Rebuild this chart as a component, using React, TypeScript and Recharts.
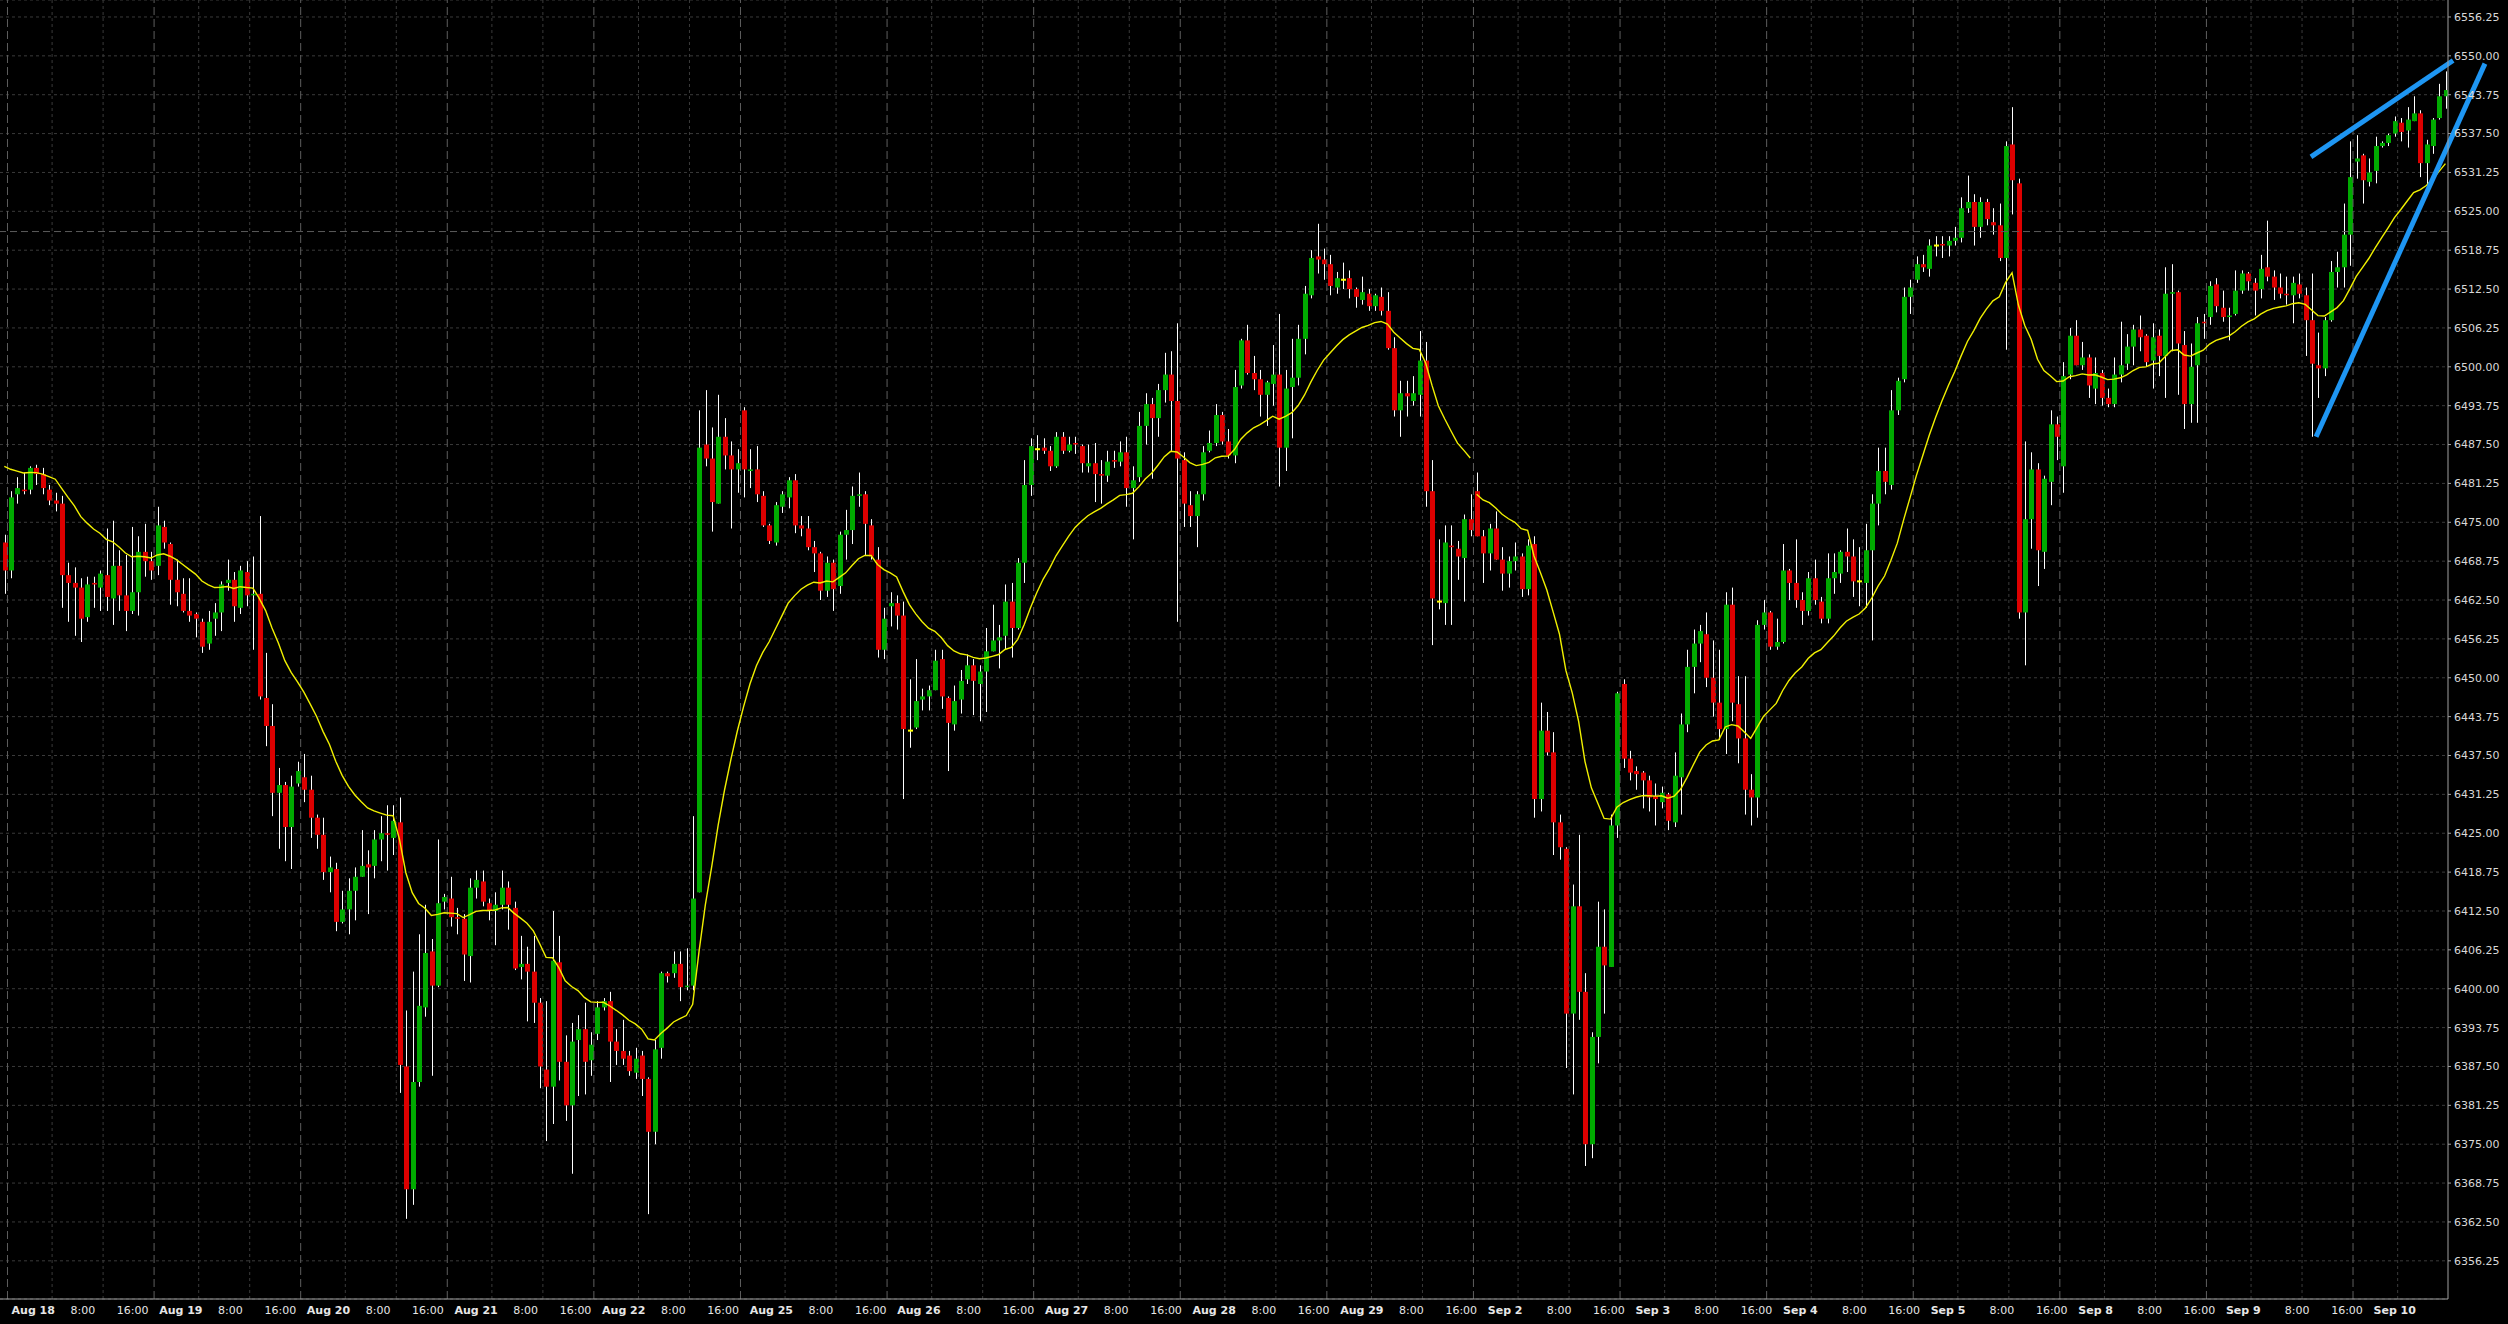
import React from "react";
import {
  ComposedChart,
  Bar,
  Line,
  XAxis,
  YAxis,
  CartesianGrid,
  ReferenceLine,
} from "recharts";

// [open, high, low, close] per hourly bar
type Ohlc = [number, number, number, number];

// last bar of the previous session, partly cut by the left edge
const lead: Ohlc[] = [[6471.75, 6473, 6463.5, 6467.25]];

const aug18: Ohlc[] = [
  [6467.25, 6480, 6466, 6479], [6479.5, 6482.25, 6478, 6480.5], [6480.25, 6483, 6479.5, 6480],
  [6480.25, 6484, 6479.5, 6483.75], [6483.75, 6484.25, 6481, 6482.75], [6482.75, 6483.75, 6479.5, 6480.5],
  [6480.25, 6481, 6477.75, 6478.5], [6478.5, 6479.75, 6476.75, 6478], [6478, 6479.25, 6461.25, 6466.5],
  [6466.5, 6468.5, 6459, 6465.25], [6465.25, 6467.75, 6456.75, 6464.5], [6464.5, 6466, 6455.75, 6459.5],
  [6459.75, 6466.25, 6459, 6465], [6465.25, 6466.25, 6461.25, 6465], [6464.5, 6467.25, 6460.75, 6466.75],
  [6466.5, 6474, 6460.75, 6463], [6462.75, 6475.25, 6458.5, 6468], [6468, 6470.5, 6460.75, 6463.25],
  [6463.25, 6469.75, 6457.5, 6460.75], [6460.75, 6474.25, 6460.25, 6463.75], [6463.75, 6472.75, 6460, 6470.25],
  [6470.25, 6474.75, 6466.25, 6468.75], [6468.75, 6470.25, 6465.75, 6467.25],
];

const aug19: Ohlc[] = [
  [6468, 6477.5, 6466.5, 6474.5], [6474.25, 6475.25, 6470.75, 6471.75], [6471.5, 6471.75, 6461.75, 6465.75],
  [6465.75, 6469, 6461.5, 6463.75], [6463.5, 6466, 6460.5, 6460.75], [6460.75, 6466, 6459, 6460],
  [6460.25, 6460.5, 6456.5, 6459.5], [6459, 6459.5, 6454, 6455], [6455.5, 6460.75, 6454.5, 6459],
  [6459.5, 6462, 6456.75, 6460.5], [6460.5, 6465.5, 6457.5, 6465], [6465.25, 6469, 6464, 6465.75],
  [6465.75, 6467, 6459, 6461.5], [6461.25, 6468, 6460.25, 6467.25], [6467, 6468.75, 6461.5, 6463.25],
  [6463.25, 6469.5, 6454.5, 6463.5], [6463.5, 6476, 6446.5, 6447], [6446.75, 6454, 6439, 6442.25],
  [6442.25, 6445.75, 6427.75, 6431.5], [6431.5, 6435.5, 6422.5, 6432.75], [6432.75, 6433.25, 6420.5, 6426],
  [6426, 6434.25, 6419.25, 6432.5], [6433, 6436.5, 6432.5, 6435],
];

const aug20: Ohlc[] = [
  [6434, 6437.75, 6430, 6432], [6432, 6434.25, 6424.25, 6427.5], [6427.5, 6428, 6422.5, 6424.75],
  [6424.75, 6427.5, 6417.5, 6418.75], [6418.75, 6421.25, 6415.5, 6419.5], [6419.25, 6420.25, 6409.25, 6410.75],
  [6410.75, 6415.75, 6410.5, 6412.75], [6412.75, 6417.75, 6408.75, 6415.75], [6415.75, 6419.5, 6411, 6418],
  [6418, 6425.5, 6418, 6419.75], [6420, 6422.25, 6412, 6419.5], [6419.75, 6425.5, 6417.75, 6424],
  [6424, 6427.75, 6420.5, 6425], [6425, 6429.5, 6419, 6424.75], [6424.25, 6429.5, 6421.5, 6427],
  [6426.75, 6430.75, 6383.25, 6387.75], [6387.5, 6396.5, 6363, 6367.75], [6367.75, 6402.75, 6365.25, 6385],
  [6385, 6408.75, 6384.25, 6397.25], [6397, 6413.5, 6395.5, 6405.75], [6406, 6408, 6386, 6400.5],
  [6400.5, 6424, 6400.25, 6413.75], [6414, 6415.25, 6412.75, 6414.75],
];

const aug21: Ohlc[] = [
  [6414.5, 6418, 6410, 6411.5], [6411.5, 6413, 6408.75, 6411.25], [6411.25, 6412, 6401.25, 6405.5],
  [6405.25, 6417.75, 6401, 6416.25], [6416.25, 6419, 6414.5, 6417.5], [6417.25, 6419, 6413.25, 6414],
  [6413.75, 6414.5, 6411, 6412.5], [6412.5, 6415.5, 6407, 6413.5], [6413.5, 6419, 6412.75, 6416.25],
  [6416.25, 6417.25, 6409.5, 6413.5], [6413, 6414, 6403, 6403.25], [6403.5, 6408.5, 6401.5, 6404],
  [6404, 6406.75, 6394.75, 6402.75], [6402.75, 6408.5, 6394.5, 6397.75], [6397.75, 6398.5, 6384, 6387.5],
  [6387, 6398, 6375.5, 6384.25], [6384.25, 6412.5, 6378.25, 6404.5], [6404.25, 6408.5, 6385.25, 6388.25],
  [6388.25, 6392.5, 6378.75, 6381.25], [6381.25, 6394.5, 6370.25, 6391.5], [6391.75, 6395.75, 6382.75, 6393.5],
  [6393.5, 6397.75, 6383, 6388.25], [6388.5, 6393, 6386, 6391],
];

const aug22: Ohlc[] = [
  [6392.75, 6398, 6391.75, 6397], [6397, 6398.5, 6396.5, 6398], [6398, 6399.5, 6385, 6391.5],
  [6391.5, 6393.5, 6387.75, 6390], [6390, 6395, 6387.75, 6388.75], [6389.25, 6390, 6386, 6386.75],
  [6386.5, 6390.5, 6385.5, 6388.75], [6389.25, 6390, 6382.75, 6385.5], [6385.5, 6385.75, 6363.75, 6377],
  [6377, 6391.75, 6375, 6390.25], [6390.5, 6402.75, 6388.75, 6402.5], [6402.5, 6402.75, 6401, 6402],
  [6402.5, 6406, 6401.75, 6404], [6404, 6406, 6398, 6400.25], [6400.25, 6406.5, 6399.75, 6400.5],
  [6400.5, 6427.75, 6399.75, 6414.5], [6415.5, 6493, 6415.5, 6487], [6487.5, 6496.25, 6484, 6485.25],
  [6485.25, 6490.25, 6473.5, 6478.25], [6478, 6495.5, 6478, 6488.75], [6488.75, 6491.75, 6483.5, 6485.75],
  [6485.75, 6488, 6474, 6483.5], [6483.5, 6486.75, 6479.75, 6484.5],
];

const aug25: Ohlc[] = [
  [6493, 6493.5, 6479, 6483.5], [6483.25, 6486.75, 6480.5, 6483.5], [6483.5, 6487.25, 6478.25, 6479.5],
  [6479.25, 6480, 6474.25, 6474.5], [6474.5, 6474.75, 6471.5, 6472], [6471.75, 6478.25, 6471.25, 6477.75],
  [6477.5, 6480, 6476.5, 6479.5], [6479, 6482.25, 6477.25, 6481.75], [6481.75, 6482.75, 6473.25, 6474.5],
  [6474.5, 6476, 6472.75, 6474], [6474, 6476, 6470.5, 6471], [6471, 6472, 6467, 6470],
  [6470, 6470.25, 6462.5, 6464], [6464, 6469.5, 6463, 6468.5], [6468.5, 6469, 6460.75, 6464.25],
  [6464.75, 6473.5, 6463.5, 6473], [6473, 6477, 6469, 6473.75], [6473.75, 6480.75, 6471.5, 6479.25],
  [6479.25, 6483, 6477.5, 6479.5], [6479.5, 6480, 6469.75, 6474.75], [6474.5, 6475.5, 6469, 6469.5],
  [6469, 6471, 6453.25, 6454.5], [6454.5, 6461.25, 6453, 6459.5],
];

const aug26: Ohlc[] = [
  [6461.5, 6463.75, 6458.25, 6462], [6462, 6463.25, 6457.75, 6460], [6460, 6462.25, 6430.5, 6441.75],
  [6441.5, 6449.75, 6438.75, 6441.5], [6442, 6453, 6441.75, 6446.25], [6446.5, 6448.25, 6444.75, 6447],
  [6447, 6448.75, 6444.75, 6448], [6448, 6454.5, 6448, 6452.75], [6453, 6454.5, 6445, 6447],
  [6446.75, 6447, 6435, 6442.75], [6442.5, 6448.75, 6441.5, 6446.25], [6446.5, 6451.25, 6444.25, 6449.5],
  [6449.75, 6453.75, 6449, 6452], [6452, 6453, 6444, 6449.5], [6449, 6452, 6443, 6451],
  [6451, 6458, 6444.5, 6454.25], [6454.25, 6461.75, 6454.25, 6456], [6456, 6458.5, 6451.5, 6456.5],
  [6456.75, 6465, 6454.5, 6462.25], [6462.25, 6465.25, 6453.25, 6458], [6458, 6469.25, 6457.75, 6468.5],
  [6468.5, 6485, 6465.25, 6481], [6481, 6488.5, 6479.25, 6487.25],
];

const aug27: Ohlc[] = [
  [6486.75, 6489, 6485, 6486.75], [6487, 6488.5, 6486, 6486.5], [6486.5, 6487.25, 6483.25, 6484],
  [6484, 6489.5, 6483.75, 6488.75], [6488.75, 6489.5, 6486, 6486.5], [6486.5, 6488.75, 6486.25, 6487.5],
  [6487.75, 6488.75, 6486, 6487.5], [6487.25, 6487.5, 6483, 6484.5], [6484, 6487.5, 6483, 6484.5],
  [6484.5, 6487.75, 6478.25, 6482.75], [6482.75, 6485, 6478, 6482.5], [6482.5, 6486.5, 6481.5, 6484.75],
  [6485, 6486.5, 6483.75, 6484.75], [6484.75, 6488, 6484, 6486.25], [6486.25, 6488.75, 6477.5, 6480.5],
  [6480.5, 6484, 6472.25, 6481.75], [6482.25, 6492.75, 6481.5, 6490.5], [6490.5, 6495.75, 6487.5, 6494],
  [6494, 6495, 6482, 6491.75], [6491.75, 6497.25, 6488.75, 6496.25], [6496.25, 6502.25, 6494.25, 6498.75],
  [6498.75, 6502.5, 6486.5, 6494.5], [6494.5, 6507, 6459, 6485.25],
];

const aug28: Ohlc[] = [
  [6485, 6486.25, 6474.25, 6478], [6477.75, 6480, 6474.25, 6476], [6476, 6480, 6471, 6479.5],
  [6479.5, 6487.25, 6478.5, 6486.25], [6486.5, 6489.75, 6486.25, 6487.75], [6487.75, 6494, 6487.25, 6492.25],
  [6492.25, 6492.75, 6487.5, 6488], [6488, 6490, 6485.25, 6485.75], [6485.75, 6499.5, 6484.5, 6496.75],
  [6497, 6504.5, 6496.5, 6504.25], [6504.25, 6506.75, 6498.75, 6499], [6499, 6501.75, 6496.25, 6498],
  [6498, 6499.5, 6492, 6495.5], [6495.5, 6497.75, 6490.5, 6497.5], [6497.25, 6503.5, 6493.75, 6498.75],
  [6498.75, 6508.5, 6480.75, 6487], [6487, 6499.5, 6483.25, 6496.5], [6496.75, 6504.5, 6488.5, 6498.25],
  [6498.25, 6506.75, 6497, 6504.5], [6504.5, 6513, 6502, 6511.75], [6511.5, 6518.75, 6511, 6517.5],
  [6517.75, 6523, 6515, 6517.25], [6517.25, 6519, 6514, 6516.5],
];

const aug29: Ohlc[] = [
  [6516.5, 6518, 6511.5, 6513], [6512.75, 6515.25, 6511.75, 6514.25], [6514, 6516.75, 6512.5, 6514],
  [6514.25, 6515.5, 6511, 6512.5], [6512.5, 6512.75, 6509.5, 6511.25], [6510.75, 6514.5, 6510, 6512],
  [6511.75, 6512.5, 6509, 6509.75], [6509.75, 6511.75, 6509, 6511.5], [6511.25, 6512.75, 6508.25, 6509],
  [6509, 6512, 6502.75, 6503], [6503, 6504.75, 6492, 6493], [6493, 6497.75, 6488.75, 6495.75],
  [6495.75, 6497.75, 6492, 6495.25], [6494.5, 6498.5, 6493.75, 6495.75], [6495.5, 6505.75, 6492, 6501],
  [6501, 6504, 6477.5, 6480], [6480, 6485, 6455.25, 6462.75], [6462.25, 6472.25, 6461, 6462.25],
  [6462, 6474.5, 6458.5, 6471.75], [6471.25, 6474.5, 6458.5, 6471], [6470.75, 6472, 6465.75, 6469.5],
  [6469.25, 6476.25, 6462.25, 6475.5], [6475.5, 6479.5, 6472.75, 6473.75],
];

const sep2: Ohlc[] = [
  [6480, 6483, 6472.75, 6472.75], [6472.75, 6473.75, 6465.25, 6470], [6470, 6474.75, 6467.25, 6474],
  [6474, 6476.75, 6469, 6469], [6469, 6471, 6464, 6466.75], [6466.75, 6469.5, 6464.5, 6468.75],
  [6468.75, 6471.75, 6467.25, 6469.5], [6469.5, 6470, 6463, 6464.25], [6464.25, 6472.25, 6463.25, 6471.25],
  [6471.5, 6472.75, 6427.5, 6430.5], [6430.5, 6446, 6428.5, 6441.5], [6441.5, 6444.5, 6437.5, 6438],
  [6438, 6441.25, 6421.5, 6426.75], [6426.75, 6428, 6420.75, 6422.75], [6422.5, 6422.75, 6387.25, 6396],
  [6396, 6416.75, 6383, 6413.25], [6413.25, 6424.75, 6395, 6399.5], [6399.5, 6402.5, 6371.5, 6375],
  [6375, 6393, 6372.75, 6392.25], [6392.25, 6414, 6388, 6406.75], [6406.75, 6412.75, 6396, 6403.75],
  [6403.5, 6428, 6403.5, 6426.25], [6426.25, 6447.75, 6424.25, 6447.5],
];

const sep3: Ohlc[] = [
  [6449, 6449.75, 6435.5, 6437], [6437, 6438.25, 6433.5, 6434.75], [6435, 6435.75, 6432, 6434.5],
  [6434.75, 6435, 6429, 6433.5], [6433.5, 6434.25, 6428.5, 6430.75], [6431, 6433, 6426.25, 6430.5],
  [6430, 6432.5, 6429, 6431.5], [6431.25, 6431.5, 6425.5, 6427], [6426.75, 6438, 6426, 6434.25],
  [6434, 6444.25, 6428, 6442.5], [6442.5, 6454.5, 6441.25, 6451.75], [6451.75, 6457.75, 6447.5, 6455.5],
  [6455.5, 6458.5, 6452.5, 6457.5], [6457, 6460.5, 6448.5, 6450], [6450, 6456, 6443.75, 6446],
  [6446, 6454.5, 6440, 6441.75], [6441.75, 6463.75, 6437.75, 6461.75], [6461.75, 6464.5, 6443, 6446],
  [6445.75, 6450.25, 6436.25, 6440.25], [6440.25, 6450.25, 6428, 6432], [6432, 6434.5, 6426.25, 6430.75],
  [6430.75, 6459.25, 6427.5, 6458.5], [6458.5, 6462.5, 6457.75, 6460.5],
];

const sep4: Ohlc[] = [
  [6460.5, 6460.75, 6454.5, 6455], [6455, 6459.5, 6454.5, 6455.75], [6455.75, 6471.5, 6455.5, 6467.25],
  [6467.25, 6467.5, 6462.5, 6465.25], [6465.25, 6472.25, 6461.25, 6462.5], [6462.5, 6463.75, 6458.5, 6460.75],
  [6460.75, 6467, 6460, 6466], [6466, 6469, 6461.75, 6462.5], [6462.25, 6463, 6458.75, 6459.5],
  [6459.5, 6470, 6458.75, 6466], [6466, 6470, 6463.5, 6467], [6466.75, 6470.5, 6465.25, 6470.25],
  [6470.25, 6474, 6467, 6469.5], [6469.5, 6472.25, 6463, 6465.5], [6465.5, 6471, 6461.5, 6465.5],
  [6465.25, 6474.75, 6461.25, 6470.5], [6470.5, 6479.5, 6456, 6478], [6478, 6487, 6474.5, 6483.25],
  [6483.25, 6487, 6479.5, 6481.5], [6481, 6496.25, 6480.25, 6493], [6493, 6498.25, 6492.25, 6497.75],
  [6498, 6512.75, 6497.5, 6511.25], [6511.25, 6514, 6508.5, 6512.75],
];

const sep5: Ohlc[] = [
  [6514, 6517.75, 6513.5, 6516.5], [6516.5, 6518, 6515.25, 6516], [6515.75, 6520.5, 6514.5, 6519.5],
  [6519.5, 6521, 6517.75, 6519.5], [6519.75, 6521, 6517.5, 6519.5], [6519.5, 6521, 6517.75, 6520.25],
  [6520.25, 6522.5, 6519.5, 6520.75], [6520.75, 6527.25, 6520, 6525.5], [6525.5, 6530.75, 6524.75, 6526.5],
  [6526.5, 6527.75, 6519.5, 6522.5], [6522.5, 6527.25, 6520.75, 6526.5], [6526.5, 6527, 6522.75, 6523.75],
  [6523.25, 6525.5, 6521.25, 6522.75], [6522.75, 6526.25, 6517, 6517.5], [6517.5, 6536.25, 6502.75, 6535.5],
  [6535.75, 6541.75, 6524.5, 6530], [6529.5, 6530.25, 6459.5, 6460.5], [6460.5, 6488, 6452, 6475.5],
  [6475.5, 6486.25, 6470.75, 6483.5], [6483.5, 6484.5, 6464.75, 6470.5], [6470.25, 6482.5, 6467.5, 6482],
  [6481.5, 6493, 6477.75, 6490.75], [6490.75, 6492, 6485, 6488.75],
];

const sep8: Ohlc[] = [
  [6484, 6500.75, 6479.75, 6498.5], [6498.75, 6506.25, 6498, 6505], [6505, 6507.5, 6500.25, 6500.25],
  [6500.25, 6504, 6499.5, 6501.5], [6501.5, 6502, 6495, 6497], [6496.5, 6501.5, 6494, 6499],
  [6499, 6499.5, 6493.75, 6495], [6495, 6496.5, 6493.5, 6494], [6494, 6501.5, 6493.5, 6498.75],
  [6498.75, 6507.25, 6497.5, 6500.25], [6500.5, 6505.25, 6499.5, 6503.25], [6503.25, 6506.75, 6500.25, 6506],
  [6506, 6508.25, 6502.5, 6504.75], [6505, 6505.25, 6500, 6500.75], [6501, 6507, 6496.5, 6504.75],
  [6505, 6506, 6498.5, 6501.75], [6501.75, 6516, 6495, 6511.75], [6511.75, 6516.5, 6502.5, 6512],
  [6512, 6512.25, 6495.5, 6503.75], [6503.5, 6505.75, 6490, 6494], [6494, 6503.75, 6491, 6500],
  [6500.25, 6508, 6491, 6507], [6507.25, 6508.5, 6504.5, 6507],
];

const sep9: Ohlc[] = [
  [6508, 6513.75, 6506.75, 6513], [6513.25, 6514.25, 6508.75, 6509.75], [6509.5, 6512.25, 6507.25, 6508],
  [6508, 6509.5, 6504.25, 6508.25], [6508.5, 6515.5, 6508.25, 6512.25], [6512.25, 6515.5, 6511.75, 6515],
  [6515, 6515.25, 6512.25, 6513.75], [6513.5, 6514.25, 6508.25, 6512.25], [6512.5, 6518, 6511, 6515.75],
  [6516, 6523.5, 6513.75, 6514.5], [6514.5, 6515.5, 6510.75, 6512.75], [6512.75, 6515, 6511, 6511.75],
  [6511.75, 6514.5, 6510, 6511.5], [6511.5, 6514.5, 6507, 6513.5], [6513.25, 6515, 6511, 6511.75],
  [6511.5, 6512.75, 6501.75, 6507.5], [6507.5, 6515, 6488.75, 6500.5], [6500.25, 6505.5, 6495, 6499.75],
  [6499.75, 6508, 6498.5, 6507.5], [6507.5, 6517, 6507.25, 6515.25], [6515.25, 6518.5, 6512.75, 6516],
  [6516, 6526.25, 6512.75, 6521.25], [6521.25, 6536.25, 6516.25, 6530.5],
];

const sep10: Ohlc[] = [
  [6533, 6537.25, 6530.25, 6533.5], [6534, 6534.25, 6526.25, 6530], [6529.75, 6533.5, 6529, 6531.25],
  [6531.5, 6537, 6529.5, 6535.5], [6535.5, 6536.25, 6535.25, 6536], [6536, 6537.5, 6535.5, 6537.25],
  [6537.5, 6540.25, 6537, 6539.5], [6539.25, 6540, 6536.25, 6537.75], [6538, 6541.75, 6535.25, 6539.75],
  [6539.5, 6543.5, 6539.5, 6540.75], [6540.75, 6541.25, 6530.5, 6532.75], [6532.75, 6536.5, 6529.25, 6535.75],
  [6535.5, 6540, 6534.25, 6539.75], [6540, 6545.5, 6539.75, 6543.5], [6543.5, 6547.5, 6541.5, 6544.5],
];

const sessionLabels = [
  "Aug 18", "Aug 19", "Aug 20", "Aug 21", "Aug 22", "Aug 25", "Aug 26", "Aug 27", "Aug 28",
  "Aug 29", "Sep 2", "Sep 3", "Sep 4", "Sep 5", "Sep 8", "Sep 9", "Sep 10",
];
const sessions = [
  aug18, aug19, aug20, aug21, aug22, aug25, aug26, aug27, aug28,
  aug29, sep2, sep3, sep4, sep5, sep8, sep9, sep10,
];
const hourMarks = [
  { label: "8:00", bars: 7 },
  { label: "16:00", bars: 15 },
];
const BARS_PER_SESSION = 23;

// moving average (EMA 20); starting levels read where each drawn stretch begins
const MA_PERIOD = 20;
const maStarts = [
  { bar: 0, value: 6484 },
  { bar: 231, value: 6479.5 },
];

const yTicks = [
  6356.25, 6362.5, 6368.75, 6375, 6381.25, 6387.5, 6393.75, 6400, 6406.25, 6412.5, 6418.75,
  6425, 6431.25, 6437.5, 6443.75, 6450, 6456.25, 6462.5, 6468.75, 6475, 6481.25, 6487.5,
  6493.75, 6500, 6506.25, 6512.5, 6518.75, 6525, 6531.25, 6537.5, 6543.75, 6550, 6556.25,
];

const levelPrice = 6521.75;

// hand-drawn trend lines: [bar, price] end points
const trendLines = [
  { from: [361.9, 6533.75], to: [384.2, 6549.25] },
  { from: [362.7, 6488.75], to: [389.2, 6548.75] },
];

const UP = "#00aa00";
const DOWN = "#dd0000";
const DOJI = "#ffff00";
const MA_COLOR = "#f0f000";
const FONT = "DejaVu Sans, sans-serif";

const allBars: Ohlc[] = [...lead, ...sessions.flat()];

const data: any[] = allBars.map(([o, h, l, c], i) => ({
  i,
  o,
  h,
  l,
  c,
  range: [l, h],
}));

const alpha = 2 / (MA_PERIOD + 1);
maStarts.forEach((seg, s) => {
  const end = s + 1 < maStarts.length ? maStarts[s + 1].bar : data.length;
  let ema = seg.value;
  for (let k = seg.bar; k < end; k++) {
    if (k > seg.bar) ema += alpha * (data[k].c - ema);
    data[k][`ma${s}`] = ema;
  }
});

const X_MIN = -0.675;
const X_MAX = 383.4;

// session separators and intraday hour lines
const dayLines = sessionLabels.map((_, k) => 0.5 + k * BARS_PER_SESSION);
const hourLines = dayLines
  .flatMap((d) => hourMarks.map((m) => d + m.bars))
  .filter((v) => v < X_MAX);

type XLabel = { pos: number; text: string; bold: boolean; shift: number };
const xLabels: XLabel[] = sessionLabels
  .flatMap((label, k) => {
    const d = dayLines[k];
    return [
      { pos: d, text: label, bold: true, shift: 4 },
      ...hourMarks.map((m) => ({
        pos: d + m.bars,
        text: m.label,
        bold: false,
        shift: m.label.length > 4 ? 13 : 18,
      })),
    ];
  })
  .filter((t) => t.pos + 10 < X_MAX);

const Candle = (props: any) => {
  const { x, y, width, height, payload } = props;
  if (!payload || x == null) return null;
  const { o, h, l, c } = payload;
  const top = Math.min(y, y + height);
  const bottom = Math.max(y, y + height);
  const k = h > l ? (bottom - top) / (h - l) : 0;
  const toY = (v: number) => top + (h - v) * k;
  const cx = Math.round(x + width / 2);
  const color = c > o ? UP : c < o ? DOWN : DOJI;
  const bodyTop = toY(Math.max(o, c));
  const bodyBottom = toY(Math.min(o, c));
  const doji = c === o;
  const bodyH = Math.max(bodyBottom - bodyTop, doji ? 2 : 1);
  return (
    <g>
      <line x1={cx + 0.5} x2={cx + 0.5} y1={top} y2={bottom} stroke="#ffffff" strokeWidth={1} />
      <rect x={cx - 2} y={doji ? bodyTop - 1 : bodyTop} width={5} height={bodyH} fill={color} />
    </g>
  );
};

const TimeTick = (props: any) => {
  const { x, y, payload } = props;
  const item = xLabels.find((t) => Math.abs(t.pos - payload.value) < 1e-6);
  if (!item) return null;
  return (
    <text
      x={x + item.shift + x * 0.007}
      y={y + 15}
      fill="#e6e6e6"
      fontSize={11}
      fontFamily={FONT}
      fontWeight={item.bold ? "bold" : "normal"}
      textAnchor="start"
    >
      {item.text}
    </text>
  );
};

export default function App() {
  return (
    <div style={{ width: 2508, height: 1324, background: "#000" }}>
      <style>{"html,body{margin:0;padding:0;background:#000;overflow:hidden}"}</style>
      <ComposedChart
        width={2508}
        height={1324}
        data={data}
        margin={{ top: 0, right: 0, bottom: 0, left: 0 }}
      >
        <CartesianGrid horizontal vertical={false} stroke="#3a3a3a" strokeDasharray="3 3" />

        {hourLines.map((v) => (
          <ReferenceLine key={`h${v}`} x={v} stroke="#3a3a3a" strokeDasharray="3 3" />
        ))}
        {dayLines.map((v) => (
          <ReferenceLine key={`d${v}`} x={v} stroke="#5e5e5e" strokeDasharray="8 4" />
        ))}
        <ReferenceLine y={levelPrice} stroke="#5a5a5a" strokeDasharray="7 4" />

        <XAxis
          dataKey="i"
          type="number"
          domain={[X_MIN, X_MAX]}
          allowDataOverflow
          ticks={xLabels.map((t) => t.pos)}
          interval={0}
          tick={<TimeTick />}
          tickLine={false}
          tickSize={0}
          tickMargin={0}
          axisLine={{ stroke: "#a0a0a0" }}
          height={25}
        />
        <YAxis
          orientation="right"
          type="number"
          domain={[6350.11, 6558.98]}
          allowDataOverflow
          ticks={yTicks}
          interval={0}
          width={60}
          tickFormatter={(v: number) => v.toFixed(2)}
          tick={{ fill: "#d8d8d8", fontSize: 11, fontFamily: FONT }}
          tickLine={{ stroke: "#a0a0a0" }}
          tickSize={3}
          tickMargin={3}
          axisLine={{ stroke: "#a0a0a0" }}
        />

        <Bar dataKey="range" barSize={5} shape={<Candle />} isAnimationActive={false} />

        <Line
          dataKey="ma0"
          type="linear"
          stroke={MA_COLOR}
          strokeWidth={1.4}
          dot={false}
          activeDot={false}
          connectNulls={false}
          isAnimationActive={false}
        />
        <Line
          dataKey="ma1"
          type="linear"
          stroke={MA_COLOR}
          strokeWidth={1.4}
          dot={false}
          activeDot={false}
          connectNulls={false}
          isAnimationActive={false}
        />

        {trendLines.map((t, n) => (
          <ReferenceLine
            key={`t${n}`}
            segment={[
              { x: t.from[0], y: t.from[1] },
              { x: t.to[0], y: t.to[1] },
            ]}
            stroke="#1e96f3"
            strokeWidth={5}
            ifOverflow="visible"
          />
        ))}
      </ComposedChart>
    </div>
  );
}
